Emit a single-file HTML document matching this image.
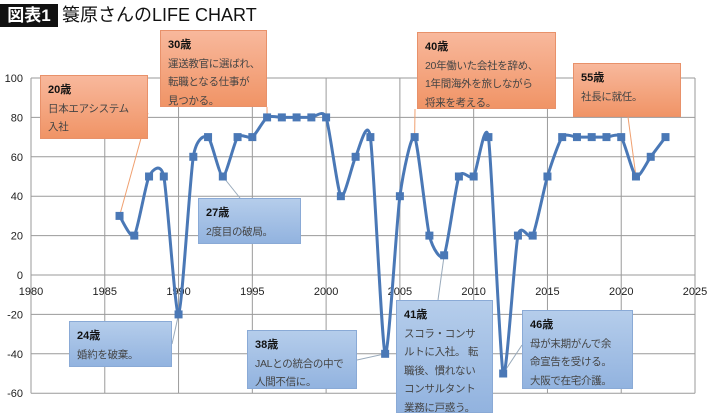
<!DOCTYPE html>
<html><head><meta charset="utf-8">
<style>
body{margin:0;background:#fff;width:710px;height:415px;overflow:hidden;position:relative;font-family:"Liberation Sans","Noto Sans CJK JP",sans-serif;}
#title-box{position:absolute;left:0;top:4px;width:58px;height:23px;background:#111;color:#fff;font-weight:bold;font-size:17px;line-height:23px;text-align:center;}
#title{position:absolute;left:62px;top:3px;font-size:18px;line-height:24px;color:#111;}
.box{position:absolute;box-sizing:border-box;font-size:10.5px;line-height:18.5px;color:#444;padding:5px 7px;white-space:nowrap;overflow:hidden;letter-spacing:-0.3px;}
.box b{color:#111;font-size:11px;letter-spacing:0;}
.or{background:linear-gradient(#f8b89c,#f09466);border:1px solid #e8916a;}
.bl{background:linear-gradient(#b5cdeb,#92b3df);border:1px solid #8aaad6;}
</style></head><body>
<div id="title-box">図表1</div>
<div id="title">簑原さんのLIFE CHART</div>
<svg id="chart" width="710" height="415" style="position:absolute;left:0;top:0"></svg>
<div class="box or" style="left:40px;top:75px;width:108px;height:64px"><b>20歳</b><br>日本エアシステム<br>入社</div>
<div class="box or" style="left:160px;top:30px;width:107px;height:77px"><b>30歳</b><br>運送教官に選ばれ、<br>転職となる仕事が<br>見つかる。</div>
<div class="box or" style="left:417px;top:32px;width:139px;height:77px"><b>40歳</b><br>20年働いた会社を辞め、<br>1年間海外を旅しながら<br>将来を考える。</div>
<div class="box or" style="left:573px;top:63px;width:108px;height:54px"><b>55歳</b><br>社長に就任。</div>
<div class="box bl" style="left:198px;top:198px;width:103px;height:46px"><b>27歳</b><br>2度目の破局。</div>
<div class="box bl" style="left:69px;top:321px;width:103px;height:46px"><b>24歳</b><br>婚約を破棄。</div>
<div class="box bl" style="left:247px;top:330px;width:110px;height:59px"><b>38歳</b><br>JALとの統合の中で<br>人間不信に。</div>
<div class="box bl" style="left:396px;top:300px;width:97px;height:113px"><b>41歳</b><br>スコラ・コンサ<br>ルトに入社。 転<br>職後、慣れない<br>コンサルタント<br>業務に戸惑う。</div>
<div class="box bl" style="left:522px;top:310px;width:111px;height:79px"><b>46歳</b><br>母が末期がんで余<br>命宣告を受ける。<br>大阪で在宅介護。</div>
<script>
const years=[1986,1987,1988,1989,1990,1991,1992,1993,1994,1995,1996,1997,1998,1999,2000,2001,2002,2003,2004,2005,2006,2007,2008,2009,2010,2011,2012,2013,2014,2015,2016,2017,2018,2019,2020,2021,2022,2023];
const scores=[30,20,50,50,-20,60,70,50,70,70,80,80,80,80,80,40,60,70,-40,40,70,20,10,50,50,70,-50,20,20,50,70,70,70,70,70,50,60,70];
const xTicks=[1980,1985,1990,1995,2000,2005,2010,2015,2020,2025];
const yTicks=[-60,-40,-20,0,20,40,60,80,100];
const leaders=[[1986,148,113,'#f0a070'],[1996,267,107,'#f0a070'],[2006,415,109,'#f0a070'],[2021,628,117,'#f0a070'],[1993,240,198,'#9ab'],[1990,172,344,'#9ab'],[2004,357,360,'#9ab'],[2008,438,300,'#9ab'],[2012,522,345,'#9ab']];
const X=v=>31+(v-1980)*(695-31)/45;
const Y=v=>275-v*(275-78)/100;
const svg=document.getElementById('chart');
const NS='http://www.w3.org/2000/svg';
function mk(t,a){const e=document.createElementNS(NS,t);for(const k in a)e.setAttribute(k,a[k]);svg.appendChild(e);return e;}
xTicks.forEach(t=>{const l=mk('line',{x1:X(t),x2:X(t),y1:Y(100),y2:Y(-60),stroke:'#9a9a9a','stroke-width':1});


const tx=mk('text',{x:X(t),y:Y(0)+20,'text-anchor':'middle','font-size':11,fill:'#222'});tx.textContent=t;

});
yTicks.forEach(t=>{const l=mk('line',{x1:X(1980),x2:X(2025),y1:Y(t),y2:Y(t),stroke:'#9a9a9a','stroke-width':1});


const tx=mk('text',{x:23,y:Y(t)+4,'text-anchor':'end','font-size':11,fill:'#222'});tx.textContent=t;

});
leaders.forEach(d=>{const i=years.indexOf(d[0]);const l=mk('line',{x1:d[1],y1:d[2],x2:X(years[i]),y2:Y(scores[i]),stroke:d[3],'stroke-width':1});

});
const P=years.map((y,i)=>[X(y),Y(scores[i])]);
let d='M'+P[0][0]+','+P[0][1];
for(let i=0;i<P.length-1;i++){const p0=P[Math.max(0,i-1)],p1=P[i],p2=P[i+1],p3=P[Math.min(P.length-1,i+2)];const k=0.11;
d+=` C${p1[0]+(p2[0]-p0[0])*k},${p1[1]+(p2[1]-p0[1])*k} ${p2[0]-(p3[0]-p1[0])*k},${p2[1]-(p3[1]-p1[1])*k} ${p2[0]},${p2[1]}`;}
const line=mk('path',{d:d,fill:'none',stroke:'#4a78b6','stroke-width':3,'stroke-linejoin':'round'});


P.forEach(p=>{const r=mk('rect',{x:p[0]-4,y:p[1]-4,width:8,height:8,fill:'#4a78b6'});

});
</script>
</body></html>
